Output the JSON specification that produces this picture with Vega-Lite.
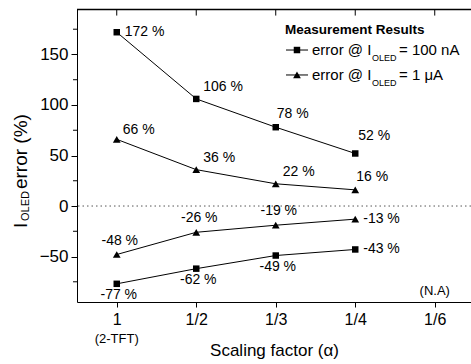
{
  "$schema": "https://vega.github.io/schema/vega-lite/v6.json",
  "width": 394,
  "height": 293,
  "autosize": {"type": "none"},
  "padding": {"left": 77, "top": 9, "right": 0, "bottom": 62},
  "config": {
    "view": {"stroke": null},
    "font": "Liberation Sans",
    "axis": {"domainColor": "#000", "tickColor": "#000", "labelColor": "#000", "titleColor": "#000", "grid": false, "labelFont": "Liberation Sans", "titleFont": "Liberation Sans", "titleFontWeight": "normal", "domainWidth": 1, "tickWidth": 1},
    "text": {"font": "Liberation Sans", "color": "#000"}
  },
  "datasets": {
    "pts": [
      {"x": 1, "v": 172, "current": "100 nA", "set": "100 nA +", "label": "172 %"},
      {"x": 2, "v": 106, "current": "100 nA", "set": "100 nA +", "label": "106 %"},
      {"x": 3, "v": 78, "current": "100 nA", "set": "100 nA +", "label": "78 %"},
      {"x": 4, "v": 52, "current": "100 nA", "set": "100 nA +", "label": "52 %"},
      {"x": 1, "v": -77, "current": "100 nA", "set": "100 nA -", "label": "-77 %"},
      {"x": 2, "v": -62, "current": "100 nA", "set": "100 nA -", "label": "-62 %"},
      {"x": 3, "v": -49, "current": "100 nA", "set": "100 nA -", "label": "-49 %"},
      {"x": 4, "v": -43, "current": "100 nA", "set": "100 nA -", "label": "-43 %"},
      {"x": 1, "v": 66, "current": "1 μA", "set": "1 μA +", "label": "66 %"},
      {"x": 2, "v": 36, "current": "1 μA", "set": "1 μA +", "label": "36 %"},
      {"x": 3, "v": 22, "current": "1 μA", "set": "1 μA +", "label": "22 %"},
      {"x": 4, "v": 16, "current": "1 μA", "set": "1 μA +", "label": "16 %"},
      {"x": 1, "v": -48, "current": "1 μA", "set": "1 μA -", "label": "-48 %"},
      {"x": 2, "v": -26, "current": "1 μA", "set": "1 μA -", "label": "-26 %"},
      {"x": 3, "v": -19, "current": "1 μA", "set": "1 μA -", "label": "-19 %"},
      {"x": 4, "v": -13, "current": "1 μA", "set": "1 μA -", "label": "-13 %"}
    ]
  },
  "data": {"name": "pts"},
  "layer": [
    {
      "mark": {"type": "line", "color": "#000", "strokeWidth": 1},
      "encoding": {
        "x": {"field": "x", "type": "quantitative", "scale": {"domain": [0.5, 5.456], "nice": false, "zero": false},
          "axis": {"values": [1, 2, 3, 4, 5], "labelExpr": "datum.value == 1 ? '1' : datum.value == 5 ? '1/6' : '1/' + datum.value", "tickSize": 5, "labelFontSize": 16, "labelPadding": 4, "labelFlush": false, "title": "Scaling factor (α)", "titleFontSize": 17, "titlePadding": 15}},
        "y": {"field": "v", "type": "quantitative", "scale": {"domain": [-95, 195], "nice": false, "zero": false},
          "axis": {"values": [-50, 0, 50, 100, 150], "tickSize": 6, "labelFontSize": 17, "labelPadding": 3, "title": null}},
        "detail": {"field": "set"}
      }
    },
    {
      "data": {"values": [{}]},
      "mark": {"type": "rule", "color": "#000", "strokeWidth": 1.5},
      "encoding": {"x": {"datum": 0.5, "type": "quantitative"}, "x2": {"datum": 5.456}, "y": {"datum": 194.5, "type": "quantitative"}}
    },
    {
      "data": {"values": [{"t": 1}, {"t": 2}, {"t": 3}, {"t": 4}, {"t": 5}]},
      "mark": {"type": "rule", "color": "#000", "strokeWidth": 1},
      "encoding": {"x": {"field": "t", "type": "quantitative"}, "y": {"datum": 195, "type": "quantitative"}, "y2": {"datum": 188.5}}
    },
    {
      "data": {"values": [{"m": -75}, {"m": -25}, {"m": 25}, {"m": 75}, {"m": 125}, {"m": 175}]},
      "mark": {"type": "rule", "color": "#000", "strokeWidth": 1},
      "encoding": {"x": {"datum": 0.5, "type": "quantitative"}, "x2": {"datum": 0.4497}, "y": {"field": "m", "type": "quantitative"}}
    },
    {
      "data": {"values": [{}]},
      "mark": {"type": "rule", "strokeDash": [1.5, 3], "color": "#555", "strokeWidth": 1},
      "encoding": {"y": {"datum": 0, "type": "quantitative"}}
    },
    {
      "mark": {"type": "point", "filled": true, "color": "#000", "opacity": 1},
      "encoding": {
        "x": {"field": "x", "type": "quantitative"},
        "y": {"field": "v", "type": "quantitative"},
        "shape": {"field": "current", "scale": {"domain": ["100 nA", "1 μA"], "range": ["square", "triangle-up"]}, "legend": null},
        "size": {"field": "current", "scale": {"domain": ["100 nA", "1 μA"], "range": [42, 60]}, "legend": null}
      }
    },
    {
      "transform": [{"filter": {"field": "v", "oneOf": [172, -13, -43]}}],
      "mark": {"type": "text", "align": "left", "baseline": "middle", "dx": 8, "dy": 0, "fontSize": 14},
      "encoding": {"x": {"field": "x", "type": "quantitative"}, "y": {"field": "v", "type": "quantitative"}, "text": {"field": "label"}}
    },
    {
      "transform": [{"filter": {"field": "v", "oneOf": [106, 36, 22]}}],
      "mark": {"type": "text", "align": "left", "baseline": "middle", "dx": 7, "dy": -12, "fontSize": 14},
      "encoding": {"x": {"field": "x", "type": "quantitative"}, "y": {"field": "v", "type": "quantitative"}, "text": {"field": "label"}}
    },
    {
      "transform": [{"filter": {"field": "v", "oneOf": [66]}}],
      "mark": {"type": "text", "align": "left", "baseline": "middle", "dx": 6, "dy": -9, "fontSize": 14},
      "encoding": {"x": {"field": "x", "type": "quantitative"}, "y": {"field": "v", "type": "quantitative"}, "text": {"field": "label"}}
    },
    {
      "transform": [{"filter": {"field": "v", "oneOf": [78, 16]}}],
      "mark": {"type": "text", "align": "left", "baseline": "middle", "dx": 1, "dy": -13, "fontSize": 14},
      "encoding": {"x": {"field": "x", "type": "quantitative"}, "y": {"field": "v", "type": "quantitative"}, "text": {"field": "label"}}
    },
    {
      "transform": [{"filter": {"field": "v", "oneOf": [52]}}],
      "mark": {"type": "text", "align": "left", "baseline": "middle", "dx": 3, "dy": -17, "fontSize": 14},
      "encoding": {"x": {"field": "x", "type": "quantitative"}, "y": {"field": "v", "type": "quantitative"}, "text": {"field": "label"}}
    },
    {
      "transform": [{"filter": {"field": "v", "oneOf": [-48, -26, -19]}}],
      "mark": {"type": "text", "align": "center", "baseline": "middle", "dx": 3, "dy": -14, "fontSize": 14},
      "encoding": {"x": {"field": "x", "type": "quantitative"}, "y": {"field": "v", "type": "quantitative"}, "text": {"field": "label"}}
    },
    {
      "transform": [{"filter": {"field": "v", "oneOf": [-77, -62, -49]}}],
      "mark": {"type": "text", "align": "center", "baseline": "middle", "dx": 2, "dy": 11, "fontSize": 14},
      "encoding": {"x": {"field": "x", "type": "quantitative"}, "y": {"field": "v", "type": "quantitative"}, "text": {"field": "label"}}
    },
    {
      "data": {"values": [{}]},
      "mark": {"type": "text", "text": "(N.A)", "align": "center", "baseline": "middle", "fontSize": 13},
      "encoding": {"x": {"datum": 5, "type": "quantitative"}, "y": {"datum": -84.1, "type": "quantitative"}}
    },
    {
      "data": {"values": [{}]},
      "mark": {"type": "text", "text": "(2-TFT)", "align": "center", "baseline": "middle", "fontSize": 13},
      "encoding": {"x": {"datum": 1, "type": "quantitative"}, "y": {"datum": -132.1, "type": "quantitative"}}
    },
    {
      "data": {"values": [{}]},
      "mark": {"type": "text", "text": "I", "angle": 270, "align": "left", "baseline": "alphabetic", "fontSize": 19},
      "encoding": {"x": {"datum": -0.129, "type": "quantitative"}, "y": {"datum": -21.8, "type": "quantitative"}}
    },
    {
      "data": {"values": [{}]},
      "mark": {"type": "text", "text": "OLED", "angle": 270, "align": "left", "baseline": "alphabetic", "fontSize": 11},
      "encoding": {"x": {"datum": -0.104, "type": "quantitative"}, "y": {"datum": -14.8, "type": "quantitative"}}
    },
    {
      "data": {"values": [{}]},
      "mark": {"type": "text", "text": "error (%)", "angle": 270, "align": "left", "baseline": "alphabetic", "fontSize": 19},
      "encoding": {"x": {"datum": -0.129, "type": "quantitative"}, "y": {"datum": 16.8, "type": "quantitative"}}
    },
    {
      "data": {"values": [{}]},
      "mark": {"type": "text", "text": "Measurement Results", "align": "left", "baseline": "alphabetic", "fontSize": 13.5, "fontWeight": "bold"},
      "encoding": {"x": {"datum": 3.116, "type": "quantitative"}, "y": {"datum": 170.25, "type": "quantitative"}}
    },
    {
      "data": {"values": [{"y": 154.4}, {"y": 129.7}]},
      "mark": {"type": "rule", "color": "#000", "strokeWidth": 1},
      "encoding": {"x": {"datum": 3.129, "type": "quantitative"}, "x2": {"datum": 3.406}, "y": {"field": "y", "type": "quantitative"}}
    },
    {
      "data": {"values": [{"y": 154.4, "current": "100 nA"}, {"y": 129.7, "current": "1 μA"}]},
      "mark": {"type": "point", "filled": true, "color": "#000", "opacity": 1},
      "encoding": {
        "x": {"datum": 3.267, "type": "quantitative"},
        "y": {"field": "y", "type": "quantitative"},
        "shape": {"field": "current", "scale": {"domain": ["100 nA", "1 μA"], "range": ["square", "triangle-up"]}, "legend": null},
        "size": {"field": "current", "scale": {"domain": ["100 nA", "1 μA"], "range": [42, 60]}, "legend": null}
      }
    },
    {
      "data": {"values": [{"y": 149.5}, {"y": 124.7}]},
      "mark": {"type": "text", "text": "error @ I", "align": "left", "baseline": "alphabetic", "fontSize": 15},
      "encoding": {"x": {"datum": 3.456, "type": "quantitative"}, "y": {"field": "y", "type": "quantitative"}}
    },
    {
      "data": {"values": [{"y": 143.5}, {"y": 118.8}]},
      "mark": {"type": "text", "text": "OLED", "align": "left", "baseline": "alphabetic", "fontSize": 9},
      "encoding": {"x": {"datum": 4.211, "type": "quantitative"}, "y": {"field": "y", "type": "quantitative"}}
    },
    {
      "data": {"values": [{}]},
      "mark": {"type": "text", "text": "= 100 nA", "align": "left", "baseline": "alphabetic", "fontSize": 15},
      "encoding": {"x": {"datum": 4.55, "type": "quantitative"}, "y": {"datum": 149.5, "type": "quantitative"}}
    },
    {
      "data": {"values": [{}]},
      "mark": {"type": "text", "text": "= 1 μA", "align": "left", "baseline": "alphabetic", "fontSize": 15},
      "encoding": {"x": {"datum": 4.55, "type": "quantitative"}, "y": {"datum": 124.7, "type": "quantitative"}}
    }
  ]
}
